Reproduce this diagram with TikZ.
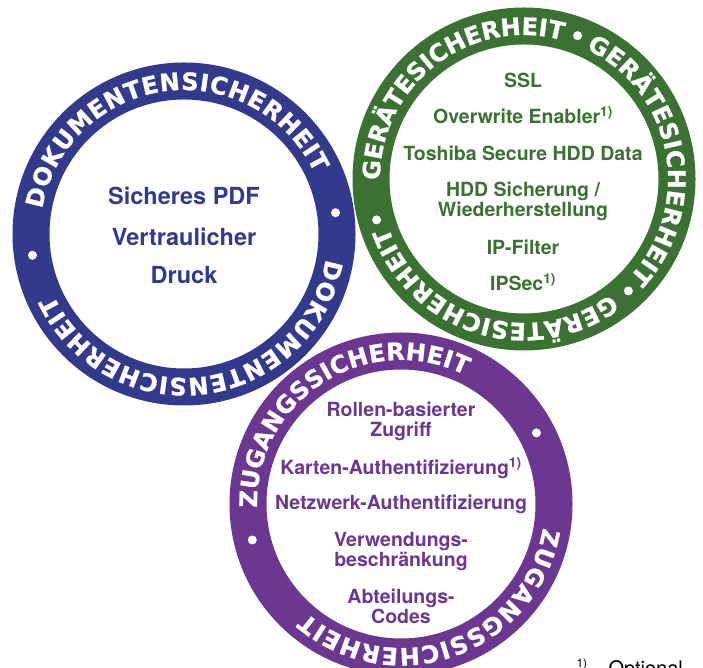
\documentclass[tikz,border=0pt]{standalone}
\usepackage{fontspec}
\usepackage{xcolor}
\usetikzlibrary{decorations.text}
\setmainfont{TeX Gyre Heros}
\newfontfamily\ringfont{DejaVu Sans}[BoldFeatures={FakeBold=1}]
\definecolor{docblue}{RGB}{51,58,140}
\definecolor{devgreen}{RGB}{59,113,51}
\definecolor{accpurple}{RGB}{108,55,144}
\newcommand{\ringtype}{\ringfont\bfseries\fontsize{24}{24}\selectfont}

\begin{document}
\begin{tikzpicture}[x=1pt, y=1pt,
    ring/.style={line width=37pt},
    ringtext/.style={decorate, decoration={text along path, text color=white,
        text align={fit to path}, text={|\ringtype|#1}}},
    dot/.style={circle, fill=white, inner sep=0pt, minimum size=9pt},
    bigitem/.style={anchor=base, font=\bfseries\fontsize{23.5}{24}\selectfont},
    item/.style={anchor=base, font=\bfseries\fontsize{19.5}{20}\selectfont}]
        \clip (0,0) rectangle (703,668);
        \coordinate (doc) at (184,434);
        \coordinate (dev) at (524,489);
        \coordinate (acc) at (401,164);
        \draw[ring, docblue] (doc) circle[radius=153];
        \draw[ring, devgreen] (dev) circle[radius=153];
        \draw[ring, accpurple] (acc) circle[radius=153];

        \path[ringtext=DOKUMENTENSICHERHEIT] ([shift={(170:144)}]doc) arc[start angle=170, end angle=25, radius=144];
        \path[ringtext=DOKUMENTENSICHERHEIT] ([shift={(-10:144)}]doc) arc[start angle=-10, end angle=-155, radius=144];
        \node[dot] (docdota) at ([shift={(8:153)}]doc) {};
        \node[dot] (docdotb) at ([shift={(188:153)}]doc) {};

        \path[ringtext=GERÄTESICHERHEIT] ([shift={(180.5:144)}]dev) arc[start angle=180.5, end angle=74.5, radius=144];
        \path[ringtext=GERÄTESICHERHEIT] ([shift={(64.5:144)}]dev) arc[start angle=64.5, end angle=-43, radius=144];
        \path[ringtext=GERÄTESICHERHEIT] ([shift={(-53:144)}]dev) arc[start angle=-53, end angle=-160.5, radius=144];
        \node[dot] (devdota) at ([shift={(69.5:153)}]dev) {};
        \node[dot] (devdotb) at ([shift={(-47:153)}]dev) {};
        \node[dot] (devdotc) at ([shift={(195.5:153)}]dev) {};

        \path[ringtext=ZUGANGSSICHERHEIT] ([shift={(181.5:144)}]acc) arc[start angle=181.5, end angle=63.5, radius=144];
        \path[ringtext=ZUGANGSSICHERHEIT] ([shift={(-9.5:144)}]acc) arc[start angle=-9.5, end angle=-131, radius=144];
        \node[dot] (accdota) at ([shift={(27.7:153)}]acc) {};
        \node[dot] (accdotb) at ([shift={(193.6:153)}]acc) {};

        \node[bigitem, text=docblue] (pdf) at (184,463) {Sicheres PDF};
        \node[bigitem, text=docblue] (vertr) at (184,422) {Vertraulicher};
        \node[bigitem, text=docblue] (druck) at (184,384) {Druck};

        \node[item, text=devgreen] (ssl) at (523,580) {SSL};
        \node[item, text=devgreen] (overwrite) at (523,544) {Overwrite Enabler\textsuperscript{1)}};
        \node[item, text=devgreen] (hdddata) at (523,507) {Toshiba Secure HDD Data};
        \node[item, text=devgreen] (hddsich) at (523,471) {HDD Sicherung /};
        \node[item, text=devgreen] (wieder) at (523,451) {Wiederherstellung};
        \node[item, text=devgreen] (ipfilter) at (523,413) {IP-Filter};
        \node[item, text=devgreen] (ipsec) at (523,377) {IPSec\textsuperscript{1)}};

        \node[item, text=accpurple] (rollen) at (401,251) {Rollen-basierter};
        \node[item, text=accpurple] (zugriff) at (401,231) {Zugriff};
        \node[item, text=accpurple] (karten) at (401,193) {Karten-Authentifizierung\textsuperscript{1)}};
        \node[item, text=accpurple] (netz) at (401,158) {Netzwerk-Authentifizierung};
        \node[item, text=accpurple] (verw) at (401,121) {Verwendungs-};
        \node[item, text=accpurple] (beschr) at (401,101) {beschränkung};
        \node[item, text=accpurple] (abt) at (401,64) {Abteilungs-};
        \node[item, text=accpurple] (codes) at (401,44) {Codes};

        \node[anchor=base west, font=\fontsize{12}{12}\selectfont] (fnmark) at (573,0) {1)};
        \node[anchor=base west, font=\fontsize{20}{20}\selectfont] (fntext) at (605,-8) {Optional};
    \end{tikzpicture}
\end{document}
